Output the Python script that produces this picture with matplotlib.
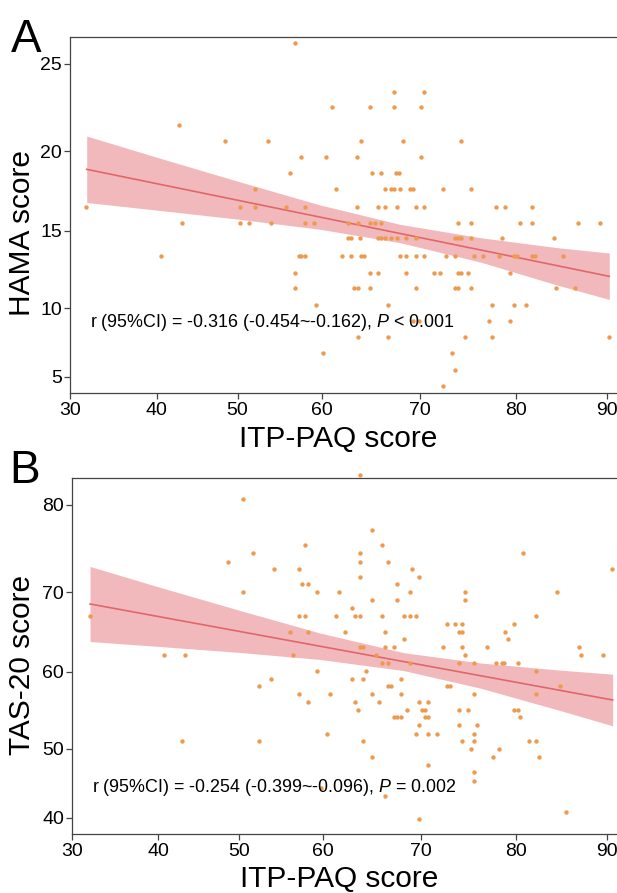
import numpy as np
import matplotlib
matplotlib.use("Agg")
import matplotlib.pyplot as plt
from matplotlib.ticker import NullLocator

plt.rcParams["font.family"] = ["Liberation Sans", "DejaVu Sans"]
plt.rcParams["mathtext.fontset"] = "custom"
plt.rcParams["mathtext.rm"] = "Liberation Sans"
plt.rcParams["mathtext.it"] = "Liberation Sans:italic"

W, H = 617, 893

# ---- panel A: ITP-PAQ vs HAMA ----
itp_a = [56.9,
         67.4, 70.5,
         61.1, 64.9, 67.4, 70.2,
         42.8,
         48.4, 53.6, 64.0, 68.3, 74.3,
         57.6, 60.5, 63.6, 70.2,
         56.2, 65.2, 66.1, 67.6, 67.9,
         52.1, 61.5, 66.5, 67.1, 67.4, 68.0, 69.0, 69.3, 72.4, 75.3,
         31.9, 50.3, 52.1, 55.8, 58.0, 63.6, 65.8, 66.5, 67.7, 69.6, 70.5, 77.9, 78.8, 81.8,
         43.1, 50.3, 51.4, 54.0, 58.0, 59.1, 62.7, 63.7, 64.9, 65.5, 66.1, 74.0, 75.3, 80.4, 81.8, 86.8, 89.2,
         62.7, 63.0, 63.9, 65.8, 66.1, 66.5, 67.1, 67.7, 68.6, 69.6, 73.7, 74.0, 74.3, 75.3, 78.5, 84.2,
         40.5, 57.3, 57.6, 58.0, 62.1, 63.0, 64.0, 64.3, 68.0, 68.6, 69.6, 70.5, 72.7, 73.7, 75.6, 76.6,
         78.2, 79.8, 80.1, 81.8, 82.1, 85.2,
         56.9, 64.9, 65.8, 68.6, 71.5, 72.1, 74.0, 74.3, 75.0, 79.4,
         56.9, 63.3, 63.7, 64.9, 69.6, 73.7, 74.0, 75.3, 84.4, 86.5,
         59.4, 66.8, 77.5, 79.8, 81.1,
         69.3, 69.9, 77.2, 79.4,
         63.7, 66.8, 74.7, 77.5, 90.2,
         60.2, 73.4,
         73.7,
         72.4]
hama = [26.2,
        23.4, 23.4,
        22.5, 22.5, 22.5, 22.5,
        21.5,
        20.6, 20.6, 20.6, 20.6, 20.6,
        19.6, 19.6, 19.6, 19.6,
        18.6, 18.6, 18.6, 18.6, 18.6,
        17.6, 17.6, 17.6, 17.6, 17.6, 17.6, 17.6, 17.6, 17.6, 17.6,
        16.5, 16.5, 16.5, 16.5, 16.5, 16.5, 16.5, 16.5, 16.5, 16.5, 16.5, 16.5, 16.5, 16.5,
        15.5, 15.5, 15.5, 15.5, 15.5, 15.5, 15.5, 15.5, 15.5, 15.5, 15.5, 15.5, 15.5, 15.5, 15.5, 15.5, 15.5,
        14.5, 14.5, 14.5, 14.5, 14.5, 14.5, 14.5, 14.5, 14.5, 14.5, 14.5, 14.5, 14.5, 14.5, 14.5, 14.5,
        13.4, 13.4, 13.4, 13.4, 13.4, 13.4, 13.4, 13.4, 13.4, 13.4, 13.4, 13.4, 13.4, 13.4, 13.4, 13.4,
        13.4, 13.4, 13.4, 13.4, 13.4, 13.4,
        12.3, 12.3, 12.3, 12.3, 12.3, 12.3, 12.3, 12.3, 12.3, 12.3,
        11.3, 11.3, 11.3, 11.3, 11.3, 11.3, 11.3, 11.3, 11.3, 11.3,
        10.2, 10.2, 10.2, 10.2, 10.2,
        9.1, 9.1, 9.1, 9.1,
        7.9, 7.9, 7.9, 7.9, 7.9,
        6.7, 6.7,
        5.5,
        4.3]
fit_x_a = [31.94, 90.25]
fit_y_a = [18.85, 12.06]
band_x_a = [31.94, 40.4, 50.3, 59.8, 68.0, 76.3, 84.5, 90.25]
band_lo_a = [16.77, 16.27, 15.71, 15.09, 14.23, 12.98, 11.50, 10.57]
band_hi_a = [20.86, 19.55, 18.06, 16.62, 15.40, 14.55, 13.91, 13.56]
note_a = "r (95%CI) = -0.316 (-0.454~-0.162), $P$ < 0.001"

# ---- panel B: ITP-PAQ vs TAS-20 ----
itp_b = [63.8,
         50.4,
         65.0,
         57.8, 66.0,
         51.6, 63.8, 80.8,
         48.6, 63.8, 66.6,
         54.1, 57.1, 69.1, 90.6,
         63.8, 69.8,
         57.5, 58.2, 67.5,
         50.4, 59.3, 61.6, 68.8, 74.6, 84.5,
         65.0, 67.5, 74.6,
         62.9,
         32.0, 57.1, 57.8, 61.3, 63.2, 63.8, 66.0, 68.2, 68.8, 69.5, 82.2,
         72.7, 73.6, 74.3, 79.8,
         56.0, 58.2, 62.2, 66.3, 74.0, 74.3, 78.9,
         68.2, 79.2,
         63.8, 64.1, 66.3, 67.2, 72.3, 74.3, 76.9, 86.9,
         40.7, 43.3, 56.4, 65.4, 74.6, 87.2, 89.6,
         66.0, 66.6, 68.8, 74.0, 75.6, 77.9, 78.5, 78.8, 80.2,
         59.3, 64.4, 82.2,
         53.8, 62.9, 64.1, 67.9,
         52.3, 66.6, 66.9, 72.7, 73.0, 84.8,
         57.1, 60.7, 65.0, 67.9, 75.6, 82.2,
         58.2, 63.2, 65.7, 69.8, 70.7,
         63.5, 68.5, 70.1, 70.4, 74.0, 74.9, 79.8, 80.2,
         67.2, 67.5, 67.9, 70.4, 70.7, 80.5,
         69.8, 74.0, 75.9,
         60.4, 69.5, 70.7, 71.7, 75.6,
         42.9, 52.3, 64.1, 74.3, 75.6, 81.5, 82.2,
         75.3, 78.2,
         65.0, 77.6, 82.5,
         70.7,
         75.6,
         75.6,
         59.7,
         66.3,
         85.5,
         69.8]
tas = [83.4,
       80.7,
       77.1,
       75.4, 75.4,
       74.5, 74.5, 74.5,
       73.5, 73.5, 73.5,
       72.7, 72.7, 72.7, 72.7,
       71.8, 71.8,
       70.9, 70.9, 70.9,
       70.0, 70.0, 70.0, 70.0, 70.0, 70.0,
       69.0, 69.0, 69.0,
       68.0,
       67.0, 67.0, 67.0, 67.0, 67.0, 67.0, 67.0, 67.0, 67.0, 67.0, 67.0,
       66.0, 66.0, 66.0, 66.0,
       65.0, 65.0, 65.0, 65.0, 65.0, 65.0, 65.0,
       64.1, 64.1,
       63.1, 63.1, 63.1, 63.1, 63.1, 63.1, 63.1, 63.1,
       62.1, 62.1, 62.1, 62.1, 62.1, 62.1, 62.1,
       61.1, 61.1, 61.1, 61.1, 61.1, 61.1, 61.1, 61.1, 61.1,
       60.1, 60.1, 60.1,
       59.1, 59.1, 59.1, 59.1,
       58.1, 58.1, 58.1, 58.1, 58.1, 58.1,
       57.1, 57.1, 57.1, 57.1, 57.1, 57.1,
       56.1, 56.1, 56.1, 56.1, 56.1,
       55.1, 55.1, 55.1, 55.1, 55.1, 55.1, 55.1, 55.1,
       54.1, 54.1, 54.1, 54.1, 54.1, 54.1,
       53.1, 53.1, 53.1,
       52.0, 52.0, 52.0, 52.0, 52.0,
       51.0, 51.0, 51.0, 51.0, 51.0, 51.0, 51.0,
       50.0, 50.0,
       48.8, 48.8, 48.8,
       47.7,
       46.6,
       45.4,
       44.3,
       43.2,
       40.9,
       39.8]
fit_x_b = [32.05, 90.62]
fit_y_b = [68.53, 56.34]
band_x_b = [32.05, 40.2, 50.07, 59.62, 68.24, 76.26, 84.85, 90.62]
band_lo_b = [63.80, 63.17, 62.42, 61.54, 60.13, 57.87, 54.98, 53.00]
band_hi_b = [72.96, 70.57, 67.71, 64.87, 62.39, 61.10, 60.20, 59.68]
note_b = "r (95%CI) = -0.254 (-0.399~-0.096), $P$ = 0.002"

x_ticks = [30, 40, 50, 60, 70, 80, 90]
y_ticks_a = [5, 10, 15, 20, 25]
y_ticks_b = [40, 50, 60, 70, 80]

# where the ticks sit in the picture (pixels); the axes are not evenly spaced
x_tick_px_a = [69.9, 156.6, 237.6, 321.5, 419.5, 516.1, 607.0]
x_tick_px_b = [72.4, 158.4, 239.4, 323.2, 421.3, 515.8, 607.0]
y_tick_px_a = [376.7, 308.3, 230.7, 151.0, 64.0]
y_tick_px_b = [817.7, 749.0, 671.7, 592.3, 505.0]

DOT = "#EE9A4E"
LINE = "#E0676A"
BAND = "#F2B9BC"
SPINE = "#444444"


def px(x, y):
    return x / W, 1 - y / H


def tick_scale(values, pixels):
    """piecewise linear scale through the tick positions"""
    v = np.asarray(values, float)
    p = np.asarray(pixels, float)
    if p[-1] < p[0]:
        p = -p

    def lin(x, a, b):
        x = np.asarray(x, float)
        out = np.interp(x, a, b)
        out = np.where(x < a[0], b[0] + (x - a[0]) * (b[1] - b[0]) / (a[1] - a[0]), out)
        out = np.where(x > a[-1], b[-1] + (x - a[-1]) * (b[-1] - b[-2]) / (a[-1] - a[-2]), out)
        return out

    return (lambda x: lin(x, v, p)), (lambda y: lin(y, p, v))


def draw_panel(fig, frame, x, y, fit_x, fit_y, band_x, band_lo, band_hi,
               xtick_px, yticks, ytick_px):
    left, top, bottom = frame
    ax = fig.add_axes([left / W, 1 - bottom / H, (W - left) / W, (bottom - top) / H])
    fx, ix = tick_scale(x_ticks, xtick_px)
    fy, iy = tick_scale(yticks, ytick_px)
    ax.set_xscale("function", functions=(fx, ix))
    ax.set_yscale("function", functions=(fy, iy))
    ax.set_xlim(float(ix(left)), float(ix(W)))
    ax.set_ylim(float(iy(-bottom)), float(iy(-top)))

    ax.fill_between(band_x, band_lo, band_hi, color=BAND, linewidth=0, zorder=1)
    ax.plot(fit_x, fit_y, color=LINE, linewidth=1.2, zorder=2)
    ax.scatter(x, y, s=10, color=DOT, linewidths=0, zorder=3, clip_on=False)

    ax.set_xticks(x_ticks)
    ax.set_xticklabels([str(t) for t in x_ticks])
    ax.set_yticks(yticks)
    ax.set_yticklabels([str(t) for t in yticks])
    ax.xaxis.set_minor_locator(NullLocator())
    ax.yaxis.set_minor_locator(NullLocator())
    ax.tick_params(length=4, width=0.9, color=SPINE, labelsize=14, labelcolor="black")
    ax.tick_params(axis="x", pad=2.5)
    ax.tick_params(axis="y", pad=1.5)
    ax.spines["right"].set_visible(False)
    for s in ("left", "bottom", "top"):
        ax.spines[s].set_color(SPINE)
        ax.spines[s].set_linewidth(0.9)
    return ax


fig = plt.figure(figsize=(W / 100, H / 100), dpi=100)

draw_panel(fig, (69.6, 37.3, 393.0), itp_a, hama, fit_x_a, fit_y_a,
           band_x_a, band_lo_a, band_hi_a, x_tick_px_a, y_ticks_a, y_tick_px_a)
draw_panel(fig, (71.7, 478.3, 834.0), itp_b, tas, fit_x_b, fit_y_b,
           band_x_b, band_lo_b, band_hi_b, x_tick_px_b, y_ticks_b, y_tick_px_b)

fig.text(*px(90.5, 327), note_a, fontsize=12.9, va="baseline")
fig.text(*px(92.5, 792), note_b, fontsize=12.9, va="baseline")

fig.text(*px(22.5, 233), "HAMA score", rotation=90, ha="center", va="center", fontsize=21.5)
fig.text(*px(22.5, 665), "TAS-20 score", rotation=90, ha="center", va="center", fontsize=21.5)
fig.text(*px(338.5, 447), "ITP-PAQ score", ha="center", va="baseline", fontsize=21.5)
fig.text(*px(339, 887), "ITP-PAQ score", ha="center", va="baseline", fontsize=21.5)

fig.text(*px(11, 51.7), "A", fontsize=33, va="baseline")
fig.text(*px(9, 483.3), "B", fontsize=33, va="baseline")

fig.savefig("out.png", dpi=100)
